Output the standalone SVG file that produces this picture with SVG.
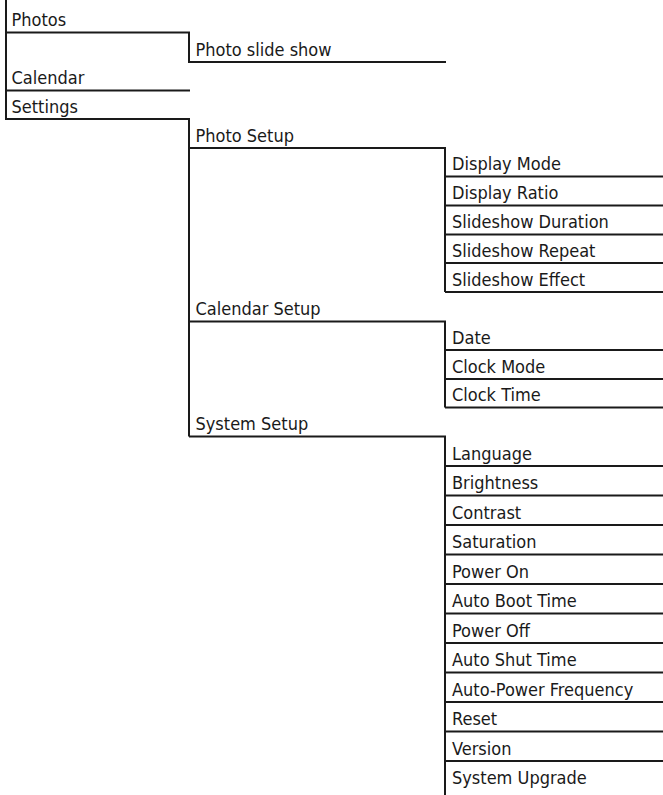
<svg xmlns="http://www.w3.org/2000/svg" width="663" height="795" viewBox="0 0 663 795">
<style>
.bg{fill:#ffffff}
.ln{fill:none;stroke:#1a1a1a;stroke-width:2;stroke-linecap:butt;stroke-linejoin:miter}
text{font-family:"DejaVu Sans Condensed","DejaVu Sans","Liberation Sans",sans-serif;font-stretch:condensed;font-size:18px;fill:#1a1a1a}
</style>
<rect class="bg" x="0" y="0" width="663" height="795"/>
<g id="connectors">
<path class="ln" d="M6 0V119H189V436.5"/>
<path class="ln" d="M6 32.5H189V62H446"/>
<path class="ln" d="M6 90.5H190"/>
<path class="ln" d="M189 148H445V292"/>
<path class="ln" d="M189 321.5H445V407.5"/>
<path class="ln" d="M189 436.5H445V795"/>
<path class="ln" d="M445 176.5H663M445 205.5H663M445 234.5H663M445 263H663M445 292H663"/>
<path class="ln" d="M445 350H663M445 379H663M445 407.5H663"/>
<path class="ln" d="M445 466H663M445 495.5H663M445 525H663M445 554.5H663M445 584H663M445 613.5H663M445 643H663M445 672.5H663M445 702H663M445 731.5H663M445 761H663"/>
</g>
<g id="photos"><text x="11.5" y="26">Photos</text></g>
<g id="photo-slide-show"><text x="195.5" y="55.5">Photo slide show</text></g>
<g id="calendar"><text x="11.5" y="84">Calendar</text></g>
<g id="settings"><text x="11.5" y="112.5">Settings</text></g>
<g id="photo-setup"><text x="195.5" y="141.5">Photo Setup</text></g>
<g id="display-mode"><text x="452" y="170">Display Mode</text></g>
<g id="display-ratio"><text x="452" y="199">Display Ratio</text></g>
<g id="slideshow-duration"><text x="452" y="228">Slideshow Duration</text></g>
<g id="slideshow-repeat"><text x="452" y="256.5">Slideshow Repeat</text></g>
<g id="slideshow-effect"><text x="452" y="285.5">Slideshow Effect</text></g>
<g id="calendar-setup"><text x="195.5" y="315">Calendar Setup</text></g>
<g id="date"><text x="452" y="343.5">Date</text></g>
<g id="clock-mode"><text x="452" y="372.5">Clock Mode</text></g>
<g id="clock-time"><text x="452" y="401">Clock Time</text></g>
<g id="system-setup"><text x="195.5" y="430">System Setup</text></g>
<g id="language"><text x="452" y="459.5">Language</text></g>
<g id="brightness"><text x="452" y="489">Brightness</text></g>
<g id="contrast"><text x="452" y="518.5">Contrast</text></g>
<g id="saturation"><text x="452" y="548">Saturation</text></g>
<g id="power-on"><text x="452" y="577.5">Power On</text></g>
<g id="auto-boot-time"><text x="452" y="607">Auto Boot Time</text></g>
<g id="power-off"><text x="452" y="636.5">Power Off</text></g>
<g id="auto-shut-time"><text x="452" y="666">Auto Shut Time</text></g>
<g id="auto-power-frequency"><text x="452" y="695.5">Auto-Power Frequency</text></g>
<g id="reset"><text x="452" y="725">Reset</text></g>
<g id="version"><text x="452" y="754.5">Version</text></g>
<g id="system-upgrade"><text x="452" y="784">System Upgrade</text></g>
</svg>
